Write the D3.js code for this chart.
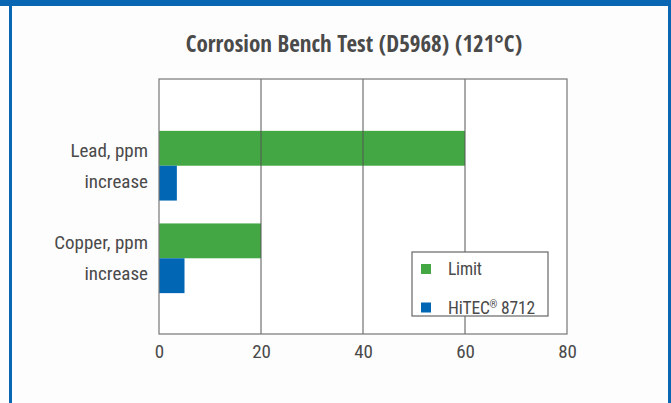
<!DOCTYPE html>
<html>
<head>
<meta charset="utf-8">
<script src="https://cdn.jsdelivr.net/npm/d3@7"></script>
<style>
  html, body { margin:0; padding:0; background:#fdfdfd; }
  svg { display:block; }
  text { font-family:"Roboto Condensed", "Liberation Sans", sans-serif; fill:#4a4a4a; }
</style>
</head>
<body>
<script>
var categories = ['Lead, ppm increase', 'Copper, ppm increase']
var catLines = [['Lead, ppm', 'increase'], ['Copper, ppm', 'increase']]
var series = ['Limit', 'HiTEC® 8712']
var limitValues = [60, 20]
var hitecValues = [3.5, 5]
var xTicks = [0, 20, 40, 60, 80]
var colors = ['#43a843', '#0166b3']

var W = 671, H = 403
var m = { top:79, right:105, bottom:69, left:159 }

var svg = d3.select('body').append('svg')
    .attr('width', W)
    .attr('height', H)

// frame: blue band on top, thin blue sides
svg.append('rect').attr('x', 0).attr('y', 0).attr('width', W).attr('height', 6).attr('fill', '#0866b2')
svg.append('rect').attr('x', 9).attr('y', 0).attr('width', 3).attr('height', H).attr('fill', '#0866b2')
svg.append('rect').attr('x', 668).attr('y', 0).attr('width', 3).attr('height', H).attr('fill', '#0866b2')

svg.append('text')
    .attr('x', 354)
    .attr('y', 52)
    .attr('text-anchor', 'middle')
    .style('font-family', '"Open Sans Condensed", "Roboto Condensed", sans-serif')
    .style('font-size', '23px')
    .style('font-weight', 'bold')
    .text('Corrosion Bench Test (D5968) (121°C)')

var x = d3.scaleLinear().domain([0, 80]).range([m.left, W - m.right + 1])
var y = d3.scaleBand().domain(categories).range([108, 316]).paddingInner(0.247).paddingOuter(0.247)
var ys = d3.scaleBand().domain(series).range([0, y.bandwidth()])

var plotTop = m.top, plotBottom = H - m.bottom

// plot box + grid
var g = svg.append('g')
g.append('rect')
    .attr('x', x(0)).attr('y', plotTop)
    .attr('width', x(80) - x(0)).attr('height', plotBottom - plotTop)
    .attr('fill', '#fff')

var rows = categories.map((c, i) => ({ cat:c, vals:[limitValues[i], hitecValues[i]] }))
var grp = g.selectAll('.grp')
    .data(rows)
  .enter().append('g')
    .attr('transform', d => 'translate(0,' + y(d.cat) + ')')
grp.selectAll('rect')
    .data(d => d.vals.map((v, j) => ({ s:series[j], v:v, j:j })))
  .enter().append('rect')
    .attr('x', x(0))
    .attr('y', d => ys(d.s))
    .attr('width', d => x(d.v) - x(0))
    .attr('height', ys.bandwidth())
    .attr('fill', d => colors[d.j])

g.selectAll('.grid')
    .data(xTicks.slice(1, -1))
  .enter().append('line')
    .attr('x1', d => x(d)).attr('x2', d => x(d))
    .attr('y1', plotTop).attr('y2', plotBottom)
    .style('stroke', '#555').style('stroke-width', 1)

g.append('rect')
    .attr('x', x(0)).attr('y', plotTop)
    .attr('width', x(80) - x(0)).attr('height', plotBottom - plotTop)
    .attr('fill', 'none')
    .style('stroke', '#777').style('stroke-width', 1.2)

// x axis labels
var xAxis = d3.axisBottom(x).tickValues(xTicks).tickSize(0).tickPadding(11)
var ax = svg.append('g')
    .attr('transform', 'translate(0,' + plotBottom + ')')
    .call(xAxis)
ax.select('.domain').remove()
ax.selectAll('text')
    .style('font-size', '19px')
    .style('font-family', '"Roboto Condensed", sans-serif')
    .attr('fill', '#4a4a4a')

// category labels
var lab = svg.selectAll('.cat')
    .data(categories)
  .enter().append('text')
    .attr('text-anchor', 'end')
    .style('font-size', '19px')
catLines.forEach((lines, i) => {
    var cy = y(categories[i]) + y.bandwidth() / 2
    d3.select(lab.nodes()[i]).selectAll('tspan')
        .data(lines)
      .enter().append('tspan')
        .attr('x', 148)
        .attr('y', (d, k) => cy - 9 + k * 31)
        .text(d => d)
})

// legend
var lg = svg.append('g').attr('transform', 'translate(412,252)')
lg.append('rect')
    .attr('width', 136).attr('height', 64)
    .attr('fill', '#fff')
    .style('stroke', '#666').style('stroke-width', 1.2)
var li = lg.selectAll('.li')
    .data(series)
  .enter().append('g')
    .attr('transform', (d, i) => 'translate(0,' + (12 + i * 38.5) + ')')
li.append('rect')
    .attr('x', 9).attr('width', 10).attr('height', 10)
    .attr('fill', (d, i) => colors[i])
var lt = li.append('text')
    .attr('x', 36).attr('y', 11)
    .style('font-size', '17.5px')
    .style('letter-spacing', '-0.2px')
// registered mark drawn small and raised, as in the reference
lt.each(function(d) {
    var parts = d.split('®')
    var t = d3.select(this)
    t.append('tspan').text(parts[0])
    if (parts.length > 1) {
        t.append('tspan').attr('dy', -6).style('font-size', '10px').text('®')
        t.append('tspan').attr('dy', 6).text(parts[1])
    }
})
</script>
</body>
</html>
